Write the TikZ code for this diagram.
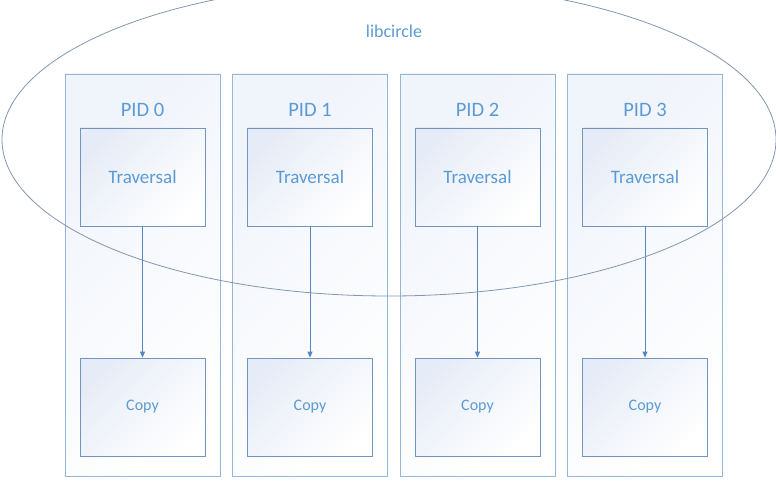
\documentclass[tikz,border=0pt]{standalone}
\usepackage{fontspec}
\setmainfont{Carlito}
\usetikzlibrary{arrows.meta,shapes.geometric}
\definecolor{txtblue}{RGB}{91,155,213}
\definecolor{colline}{RGB}{150,182,215}
\definecolor{boxline}{RGB}{112,150,192}
\definecolor{arrline}{RGB}{84,134,192}
\definecolor{elline}{RGB}{130,150,175}
\definecolor{shadeblue}{RGB}{230,236,247}
\definecolor{shadefaint}{RGB}{240,244,251}
\tikzset{
  x=1pt, y=-1pt,
  column/.style={draw=colline, line width=0.8pt, top color=shadefaint, bottom color=white, shading angle=45, minimum width=155pt, minimum height=402pt, inner sep=0pt},
  procbox/.style={draw=boxline, line width=0.8pt, top color=shadeblue, bottom color=white, shading angle=45, minimum width=125pt, minimum height=98pt, inner sep=0pt, text=txtblue},
  pidlabel/.style={text=txtblue, font=\fontsize{20.5}{22}\selectfont},
  flow/.style={draw=arrline, line width=0.8pt, -{Triangle[length=6pt,width=5pt]}},
}
\begin{document}
\begin{tikzpicture}
\useasboundingbox (0,0) rectangle (776,484);
\foreach \i/\cx in {0/142.5,1/310,2/477.5,3/645}{
  \node[column] (col\i) at (\cx,275) {};
  \node[pidlabel] (pid\i) at (\cx,110) {PID \i};
  \node[procbox, font=\fontsize{19}{22}\selectfont] (trav\i) at (\cx,177) {Traversal};
  \node[procbox, font=\fontsize{16}{18}\selectfont] (copy\i) at (\cx,407) {Copy};
  \draw[flow] (trav\i.south) -- (copy\i.north);
}
\node[draw=elline, line width=0.8pt, ellipse, minimum width=774pt, minimum height=313pt, inner sep=0pt] (lib) at (389,139.5) {};
\node[text=txtblue, font=\fontsize{18}{20}\selectfont] (libtxt) at (394,31) {libcircle};
\end{tikzpicture}
\end{document}
